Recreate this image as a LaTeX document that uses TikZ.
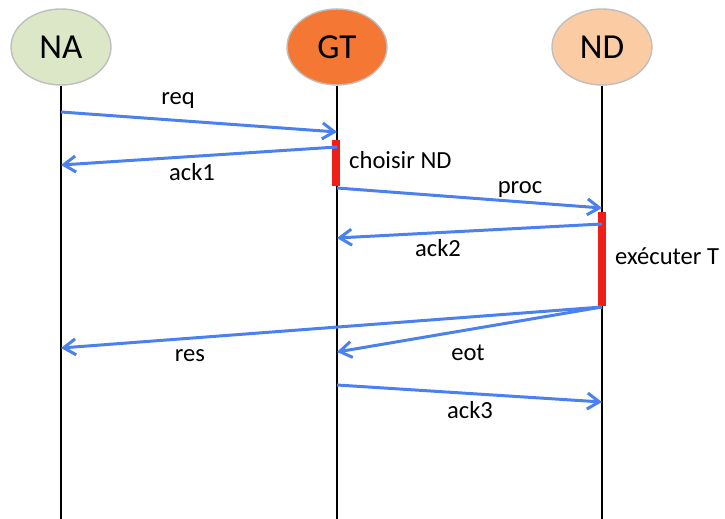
\documentclass[tikz,border=0pt]{standalone}
\usepackage{fontspec}
\setmainfont{Carlito}
\usepackage{tikz}
\usetikzlibrary{arrows.meta, positioning, shapes.geometric}
\definecolor{nagreen}{RGB}{220,231,200}
\definecolor{gtorange}{RGB}{244,120,52}
\definecolor{ndpeach}{RGB}{251,203,163}
\definecolor{msgblue}{RGB}{74,128,240}
\definecolor{actred}{RGB}{240,30,25}

\begin{document}
\begin{tikzpicture}[
  x=0.02cm, y=-0.02cm,
  actor/.style={ellipse, draw=black!25, line width=0.8pt, minimum width=2cm, minimum height=1.52cm, font=\fontsize{20}{22}\selectfont},
  lifeline/.style={draw=black, line width=1.4pt},
  activity/.style={draw=actred, line width=4pt},
  msg/.style={draw=msgblue, line width=1.7pt, -{Straight Barb[length=2.4mm, width=3.2mm, line width=1.7pt]}},
  lbl/.style={font=\fontsize{14}{16}\selectfont}
]
\useasboundingbox (0,0) rectangle (725,519);

% actors
\node[actor, fill=nagreen]  (na) at (61,47)  {NA};
\node[actor, fill=gtorange] (gt) at (337,47) {GT};
\node[actor, fill=ndpeach]  (nd) at (602,47) {ND};

% lifelines
\coordinate (naEnd) at (61,519);
\coordinate (gtEnd) at (337,519);
\coordinate (ndEnd) at (602,519);
\draw[lifeline] (na) -- (naEnd);
\draw[lifeline] (gt) -- (gtEnd);
\draw[lifeline] (nd) -- (ndEnd);

% points on the lifelines
\coordinate (na1) at (61,112);
\coordinate (gt1) at (337,132);
\coordinate (gt2) at (337,147);
\coordinate (na2) at (61,165);
\coordinate (gt3) at (337,188);
\coordinate (nd1) at (602,208);
\coordinate (nd2) at (602,224);
\coordinate (gt4) at (337,238);
\coordinate (nd3) at (602,307);
\coordinate (na3) at (61,348);
\coordinate (gt5) at (337,352);
\coordinate (gt6) at (337,385);
\coordinate (nd4) at (602,402);

% activity bars
\coordinate (gtA) at (336,140);
\coordinate (gtB) at (336,186);
\coordinate (ndA) at (602,212);
\coordinate (ndB) at (602,306);
\draw[activity] (gtA) -- (gtB);
\draw[activity] (ndA) -- (ndB);
\node[lbl, anchor=west] (choix) at (343,160) {choisir ND};
\node[lbl, anchor=west] (exec)  at (609,256) {exécuter T};

% messages
\draw[msg] (na1) -- (gt1);
\draw[msg] (gt2) -- (na2);
\draw[msg] (gt3) -- (nd1);
\draw[msg] (nd2) -- (gt4);
\draw[msg] (nd3) -- (na3);
\draw[msg] (nd3) -- (gt5);
\draw[msg] (gt6) -- (nd4);

\node[lbl] (req)  at (178,101) {req};
\node[lbl] (ack1) at (192,172) {ack1};
\node[lbl] (proc) at (520,190) {proc};
\node[lbl] (ack2) at (438,248) {ack2};
\node[lbl] (res)  at (190,356) {res};
\node[lbl] (eot)  at (468,353) {eot};
\node[lbl] (ack3) at (470,410) {ack3};
\end{tikzpicture}
\end{document}
